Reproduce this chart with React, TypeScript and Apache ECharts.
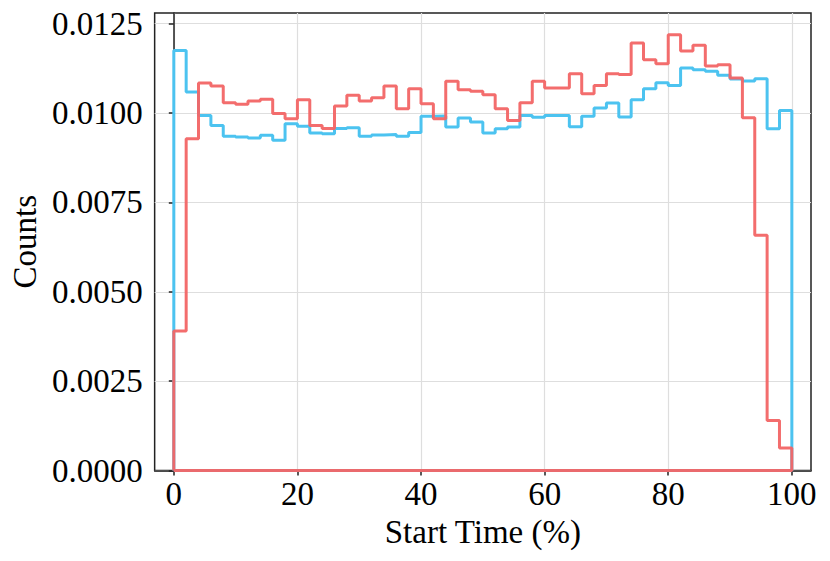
import React, { useEffect, useRef } from "react";
import * as echarts from "echarts";

const binStart = 0;
const binWidth = 2;

const blueCounts = [
  0.01175, 0.01059, 0.00993, 0.00965, 0.00935, 0.00933, 0.0093, 0.00938, 0.00924, 0.0097,
  0.00963, 0.00944, 0.00942, 0.00957, 0.00959, 0.00935, 0.00939, 0.0094, 0.00935, 0.00946,
  0.00991, 0.00992, 0.00961, 0.00986, 0.00975, 0.00944, 0.00956, 0.00961, 0.00993, 0.00988,
  0.00993, 0.00993, 0.00962, 0.00991, 0.01014, 0.01028, 0.00989, 0.01037, 0.01068, 0.01085,
  0.01077, 0.01126, 0.01121, 0.01117, 0.01106, 0.01095, 0.0109, 0.01096, 0.00956, 0.01007,
];

const redCounts = [
  0.0039, 0.00928, 0.01084, 0.01076, 0.01029, 0.01025, 0.01034, 0.01039, 0.00999, 0.00984,
  0.01037, 0.00965, 0.00957, 0.0102, 0.0105, 0.01034, 0.01043, 0.01076, 0.01012, 0.01068,
  0.01026, 0.00984, 0.01089, 0.01065, 0.01061, 0.01051, 0.01012, 0.00979, 0.01029, 0.01089,
  0.0107, 0.0107, 0.0111, 0.01054, 0.01077, 0.0111, 0.01108, 0.01196, 0.01149, 0.01138,
  0.01219, 0.01174, 0.0119, 0.01132, 0.01135, 0.01098, 0.00987, 0.00658, 0.0014, 0.00063,
];

const xTicks = [0, 20, 40, 60, 80, 100];
const yTicks = [0, 0.0025, 0.005, 0.0075, 0.01, 0.0125];

function stepOutline(counts: number[]): number[][] {
  const pts: number[][] = [];
  const end = binStart + counts.length * binWidth;
  pts.push([binStart, 0]);
  counts.forEach((v, i) => {
    const a = binStart + i * binWidth;
    pts.push([a, v]);
    pts.push([a + binWidth, v]);
  });
  pts.push([end, 0]);
  pts.push([binStart, 0]);
  return pts;
}

const FONT = "'Liberation Serif', 'Times New Roman', serif";

export default function App() {
  const ref = useRef<HTMLDivElement>(null);
  useEffect(() => {
    if (!ref.current) return;
    const chart = echarts.init(ref.current, undefined, { renderer: "svg" });
    chart.setOption({
      animation: false,
      backgroundColor: "#ffffff",
      grid: {
        left: 153,
        right: 19,
        top: 13,
        bottom: 90.5,
        show: true,
        borderColor: "#222222",
        borderWidth: 1.5,
        backgroundColor: "transparent",
      },
      xAxis: {
        type: "value",
        min: -3.1,
        max: 103.1,
        name: "Start Time (%)",
        nameLocation: "middle",
        nameGap: 43,
        nameTextStyle: { fontFamily: FONT, fontSize: 33, color: "#000" },
        axisLine: { show: true, onZero: false, lineStyle: { color: "#222", width: 1.5 } },
        axisTick: {
          show: true,
          length: 5,
          inside: false,
          customValues: xTicks,
          lineStyle: { color: "#222", width: 1.5 },
        },
        axisLabel: {
          customValues: xTicks,
          fontFamily: FONT,
          fontSize: 33,
          color: "#000",
          margin: 7,
        },
        splitLine: { show: true, lineStyle: { color: "#dedede", width: 1.2 } },
      },
      yAxis: {
        type: "value",
        min: 0,
        max: 0.0128,
        name: "Counts",
        nameLocation: "middle",
        nameGap: 112,
        nameRotate: 90,
        nameTextStyle: { fontFamily: FONT, fontSize: 33, color: "#000" },
        axisLine: { show: true, lineStyle: { color: "#222", width: 1.5 } },
        axisTick: {
          show: true,
          length: 5,
          inside: false,
          customValues: yTicks,
          lineStyle: { color: "#222", width: 1.5 },
        },
        axisLabel: {
          customValues: yTicks,
          fontFamily: FONT,
          fontSize: 33,
          color: "#000",
          margin: 12,
          formatter: (v: number) => v.toFixed(4),
        },
        splitLine: { show: true, lineStyle: { color: "#dedede", width: 1.2 } },
      },
      series: [
        {
          type: "line",
          data: stepOutline(blueCounts),
          symbol: "none",
          clip: true,
          lineStyle: { color: "#4cc3f0", width: 3 },
          z: 2,
        },
        {
          type: "line",
          data: stepOutline(redCounts),
          symbol: "none",
          clip: true,
          lineStyle: { color: "#f26565", width: 3, opacity: 0.95 },
          z: 3,
        },
      ],
    });
    return () => chart.dispose();
  }, []);
  return (
    <div
      ref={ref}
      style={{ position: "absolute", left: 0, top: 0, width: 830, height: 561 }}
    />
  );
}
